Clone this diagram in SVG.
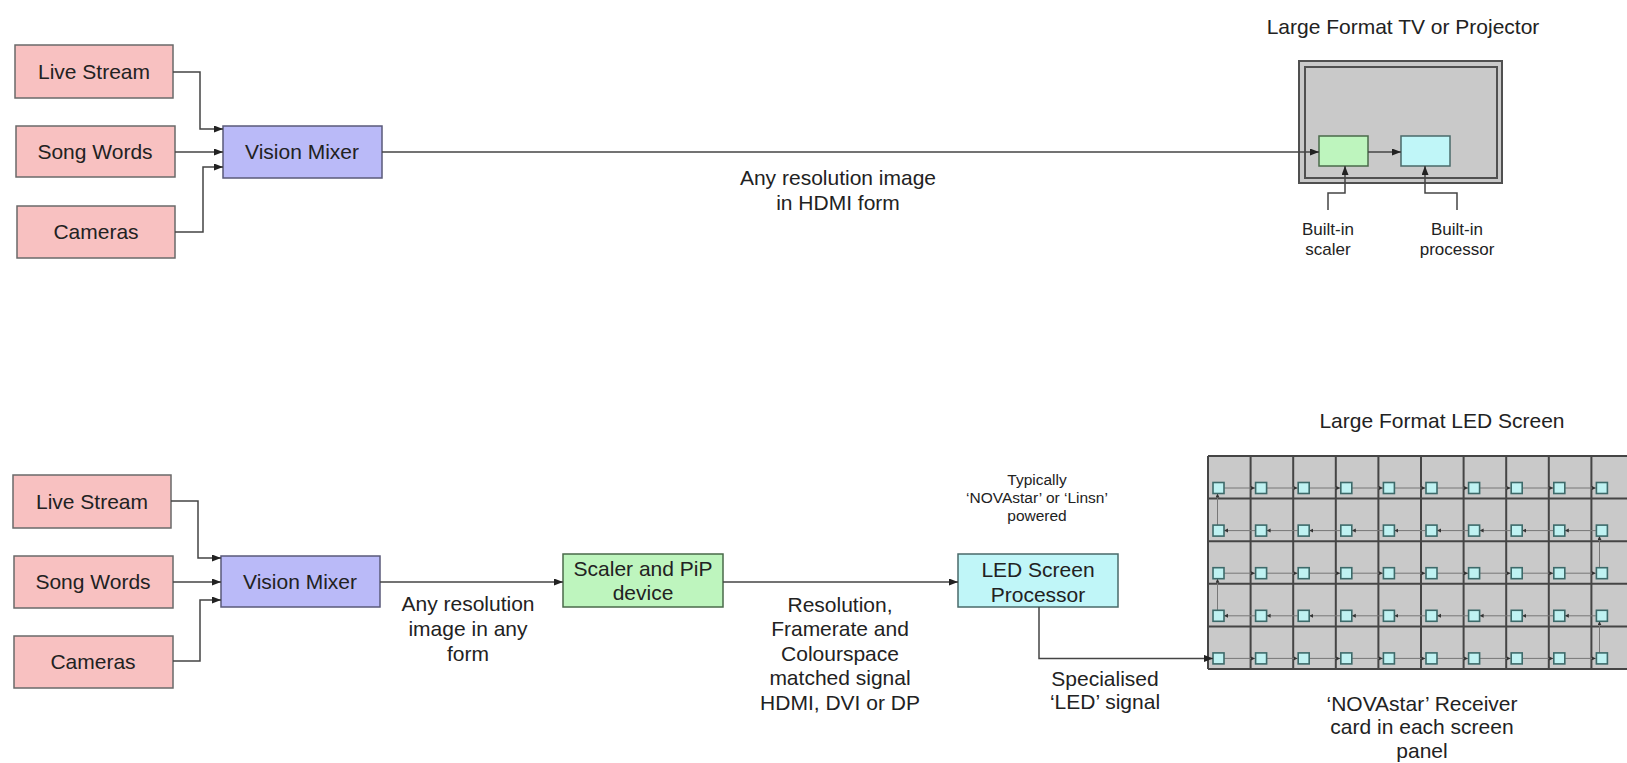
<svg xmlns="http://www.w3.org/2000/svg" width="1627" height="763" viewBox="0 0 1627 763">
<style>
text{font-family:"Liberation Sans",Arial,sans-serif;fill:#222;text-anchor:middle}
.t{font-size:21px}
.s{font-size:17px}
.xs{font-size:15.5px}
.pink{fill:#f8c1c1;stroke:#6a6a6a;stroke-width:1.5}
.lav{fill:#babaf8;stroke:#5a5a7a;stroke-width:1.5}
.grn{fill:#bef5be;stroke:#4a6a4a;stroke-width:1.5}
.cyn{fill:#c0f6f8;stroke:#4a6a6a;stroke-width:1.5}
.gray{fill:#c9c9c9;stroke:#505050;stroke-width:2}
.ln{fill:none;stroke:#444;stroke-width:1.5}
.lnA{fill:none;stroke:#444;stroke-width:1.5;marker-end:url(#arr)}
.sl{fill:none;stroke:#777;stroke-width:1;marker-end:url(#sarr)}
.card{fill:#bff2f2;stroke:#3d6a6a;stroke-width:1.6}
.grid{fill:none;stroke:#454545;stroke-width:2}
</style>
<defs>
<marker id="arr" markerUnits="userSpaceOnUse" markerWidth="10" markerHeight="8" refX="9" refY="3.5" orient="auto"><path d="M0,0 L9,3.5 L0,7 z" fill="#222"/></marker>
<marker id="sarr" markerUnits="userSpaceOnUse" markerWidth="5" markerHeight="5" refX="4" refY="2" orient="auto"><path d="M0,0 L4,2 L0,4 z" fill="#333"/></marker>
</defs>

<!-- Top section -->
<g id="top-live"><rect class="pink" x="15" y="45" width="158" height="53"/><text class="t" x="94" y="79">Live Stream</text></g>
<g id="top-song"><rect class="pink" x="16" y="126" width="159" height="51"/><text class="t" x="95" y="159">Song Words</text></g>
<g id="top-cam"><rect class="pink" x="17" y="206" width="158" height="52"/><text class="t" x="96" y="239">Cameras</text></g>
<g id="top-mixer"><rect class="lav" x="223" y="126" width="159" height="52"/><text class="t" x="302" y="159">Vision Mixer</text></g>
<g id="tv">
<rect class="gray" x="1299" y="61" width="203" height="122"/>
<rect class="gray" x="1305" y="67" width="192" height="111"/>
<text class="t" x="1403" y="34">Large Format TV or Projector</text>
</g>
<g id="tv-scaler"><rect class="grn" x="1319" y="136" width="49" height="30"/></g>
<g id="tv-processor"><rect class="cyn" x="1401" y="136" width="49" height="30"/></g>
<g id="top-labels">
<text class="t" x="838" y="185">Any resolution image</text>
<text class="t" x="838" y="210">in HDMI form</text>
<text class="s" x="1328" y="235">Built-in</text>
<text class="s" x="1328" y="255">scaler</text>
<text class="s" x="1457" y="235">Built-in</text>
<text class="s" x="1457" y="255">processor</text>
</g>

<!-- Bottom section -->
<g id="bot-live"><rect class="pink" x="13" y="475" width="158" height="53"/><text class="t" x="92" y="509">Live Stream</text></g>
<g id="bot-song"><rect class="pink" x="14" y="556" width="159" height="52"/><text class="t" x="93" y="589">Song Words</text></g>
<g id="bot-cam"><rect class="pink" x="14" y="636" width="159" height="52"/><text class="t" x="93" y="669">Cameras</text></g>
<g id="bot-mixer"><rect class="lav" x="221" y="556" width="159" height="51"/><text class="t" x="300" y="589">Vision Mixer</text></g>
<g id="bot-scaler"><rect class="grn" x="563" y="554" width="160" height="53"/><text class="t" x="643" y="576">Scaler and PiP</text><text class="t" x="643" y="600">device</text></g>
<g id="bot-ledproc"><rect class="cyn" x="958" y="554" width="160" height="53"/><text class="t" x="1038" y="577">LED Screen</text><text class="t" x="1038" y="602">Processor</text></g>
<g id="bot-labels">
<text class="t" x="468" y="611">Any resolution</text>
<text class="t" x="468" y="636">image in any</text>
<text class="t" x="468" y="661">form</text>
<text class="t" x="840" y="612">Resolution,</text>
<text class="t" x="840" y="636">Framerate and</text>
<text class="t" x="840" y="661">Colourspace</text>
<text class="t" x="840" y="685">matched signal</text>
<text class="t" x="840" y="710">HDMI, DVI or DP</text>
<text class="xs" x="1037" y="485">Typically</text>
<text class="xs" x="1037" y="503">‘NOVAstar’ or ‘Linsn’</text>
<text class="xs" x="1037" y="521">powered</text>
<text class="t" x="1105" y="686">Specialised</text>
<text class="t" x="1105" y="709">‘LED’ signal</text>
<text class="t" x="1442" y="428">Large Format LED Screen</text>
<text class="t" x="1422" y="711">‘NOVAstar’ Receiver</text>
<text class="t" x="1422" y="734">card in each screen</text>
<text class="t" x="1422" y="758">panel</text>
</g>

<!-- LED screen -->
<g id="led-screen">
<rect x="1208" y="456" width="430" height="213" fill="#c9c9c9"/>
<path class="grid" d="M1208,456 H1640 M1208,498.6 H1640 M1208,541.2 H1640 M1208,583.8 H1640 M1208,626.4 H1640 M1208,669 H1640 M1208,456 V669 M1250.6,456 V669 M1293.2,456 V669 M1335.8,456 V669 M1378.4,456 V669 M1421,456 V669 M1463.6,456 V669 M1506.2,456 V669 M1548.8,456 V669 M1591.4,456 V669"/>
<g id="led-wiring">
<path class="sl" d="M1224,488 H1255"/><path class="sl" d="M1266.6,488 H1297.6"/><path class="sl" d="M1309.2,488 H1340.2"/><path class="sl" d="M1351.8,488 H1382.8"/><path class="sl" d="M1394.4,488 H1425.4"/><path class="sl" d="M1437,488 H1468"/><path class="sl" d="M1479.6,488 H1510.6"/><path class="sl" d="M1522.2,488 H1553.2"/><path class="sl" d="M1564.8,488 H1595.8"/>
<path class="sl" d="M1595.8,530.6 H1564.8"/><path class="sl" d="M1553.2,530.6 H1522.2"/><path class="sl" d="M1510.6,530.6 H1479.6"/><path class="sl" d="M1468,530.6 H1437"/><path class="sl" d="M1425.4,530.6 H1394.4"/><path class="sl" d="M1382.8,530.6 H1351.8"/><path class="sl" d="M1340.2,530.6 H1309.2"/><path class="sl" d="M1297.6,530.6 H1266.6"/><path class="sl" d="M1255,530.6 H1224"/>
<path class="sl" d="M1224,573.2 H1255"/><path class="sl" d="M1266.6,573.2 H1297.6"/><path class="sl" d="M1309.2,573.2 H1340.2"/><path class="sl" d="M1351.8,573.2 H1382.8"/><path class="sl" d="M1394.4,573.2 H1425.4"/><path class="sl" d="M1437,573.2 H1468"/><path class="sl" d="M1479.6,573.2 H1510.6"/><path class="sl" d="M1522.2,573.2 H1553.2"/><path class="sl" d="M1564.8,573.2 H1595.8"/>
<path class="sl" d="M1595.8,615.8 H1564.8"/><path class="sl" d="M1553.2,615.8 H1522.2"/><path class="sl" d="M1510.6,615.8 H1479.6"/><path class="sl" d="M1468,615.8 H1437"/><path class="sl" d="M1425.4,615.8 H1394.4"/><path class="sl" d="M1382.8,615.8 H1351.8"/><path class="sl" d="M1340.2,615.8 H1309.2"/><path class="sl" d="M1297.6,615.8 H1266.6"/><path class="sl" d="M1255,615.8 H1224"/>
<path class="sl" d="M1224,658.4 H1255"/><path class="sl" d="M1266.6,658.4 H1297.6"/><path class="sl" d="M1309.2,658.4 H1340.2"/><path class="sl" d="M1351.8,658.4 H1382.8"/><path class="sl" d="M1394.4,658.4 H1425.4"/><path class="sl" d="M1437,658.4 H1468"/><path class="sl" d="M1479.6,658.4 H1510.6"/><path class="sl" d="M1522.2,658.4 H1553.2"/><path class="sl" d="M1564.8,658.4 H1595.8"/>
<path class="sl" d="M1599.5,652.9 V621.3"/>
<path class="sl" d="M1217.5,610.3 V578.7"/>
<path class="sl" d="M1599.5,567.7 V536.1"/>
<path class="sl" d="M1217.5,525.1 V493.5"/>
</g>
<g id="led-cards">
<rect class="card" x="1213" y="482.5" width="11" height="11"/><rect class="card" x="1255.6" y="482.5" width="11" height="11"/><rect class="card" x="1298.2" y="482.5" width="11" height="11"/><rect class="card" x="1340.8" y="482.5" width="11" height="11"/><rect class="card" x="1383.4" y="482.5" width="11" height="11"/><rect class="card" x="1426" y="482.5" width="11" height="11"/><rect class="card" x="1468.6" y="482.5" width="11" height="11"/><rect class="card" x="1511.2" y="482.5" width="11" height="11"/><rect class="card" x="1553.8" y="482.5" width="11" height="11"/><rect class="card" x="1596.4" y="482.5" width="11" height="11"/>
<rect class="card" x="1213" y="525.1" width="11" height="11"/><rect class="card" x="1255.6" y="525.1" width="11" height="11"/><rect class="card" x="1298.2" y="525.1" width="11" height="11"/><rect class="card" x="1340.8" y="525.1" width="11" height="11"/><rect class="card" x="1383.4" y="525.1" width="11" height="11"/><rect class="card" x="1426" y="525.1" width="11" height="11"/><rect class="card" x="1468.6" y="525.1" width="11" height="11"/><rect class="card" x="1511.2" y="525.1" width="11" height="11"/><rect class="card" x="1553.8" y="525.1" width="11" height="11"/><rect class="card" x="1596.4" y="525.1" width="11" height="11"/>
<rect class="card" x="1213" y="567.7" width="11" height="11"/><rect class="card" x="1255.6" y="567.7" width="11" height="11"/><rect class="card" x="1298.2" y="567.7" width="11" height="11"/><rect class="card" x="1340.8" y="567.7" width="11" height="11"/><rect class="card" x="1383.4" y="567.7" width="11" height="11"/><rect class="card" x="1426" y="567.7" width="11" height="11"/><rect class="card" x="1468.6" y="567.7" width="11" height="11"/><rect class="card" x="1511.2" y="567.7" width="11" height="11"/><rect class="card" x="1553.8" y="567.7" width="11" height="11"/><rect class="card" x="1596.4" y="567.7" width="11" height="11"/>
<rect class="card" x="1213" y="610.3" width="11" height="11"/><rect class="card" x="1255.6" y="610.3" width="11" height="11"/><rect class="card" x="1298.2" y="610.3" width="11" height="11"/><rect class="card" x="1340.8" y="610.3" width="11" height="11"/><rect class="card" x="1383.4" y="610.3" width="11" height="11"/><rect class="card" x="1426" y="610.3" width="11" height="11"/><rect class="card" x="1468.6" y="610.3" width="11" height="11"/><rect class="card" x="1511.2" y="610.3" width="11" height="11"/><rect class="card" x="1553.8" y="610.3" width="11" height="11"/><rect class="card" x="1596.4" y="610.3" width="11" height="11"/>
<rect class="card" x="1213" y="652.9" width="11" height="11"/><rect class="card" x="1255.6" y="652.9" width="11" height="11"/><rect class="card" x="1298.2" y="652.9" width="11" height="11"/><rect class="card" x="1340.8" y="652.9" width="11" height="11"/><rect class="card" x="1383.4" y="652.9" width="11" height="11"/><rect class="card" x="1426" y="652.9" width="11" height="11"/><rect class="card" x="1468.6" y="652.9" width="11" height="11"/><rect class="card" x="1511.2" y="652.9" width="11" height="11"/><rect class="card" x="1553.8" y="652.9" width="11" height="11"/><rect class="card" x="1596.4" y="652.9" width="11" height="11"/>
</g>
</g>

<!-- Connectors -->
<g id="connectors">
<path class="lnA" d="M173,72 H200 V129 H223"/>
<path class="lnA" d="M175,152 H223"/>
<path class="lnA" d="M175,232 H203 V167 H223"/>
<path class="lnA" d="M382,152 H1319"/>
<path class="lnA" d="M1368,152 H1401"/>
<path class="lnA" d="M1328,210 V193 H1345 V166"/>
<path class="lnA" d="M1457,210 V193 H1425 V166"/>
<path class="lnA" d="M171,501 H198 V558 H221"/>
<path class="lnA" d="M173,582 H221"/>
<path class="lnA" d="M173,661 H200 V600 H221"/>
<path class="lnA" d="M380,582 H563"/>
<path class="lnA" d="M723,582 H958"/>
<path class="lnA" d="M1039,607 V658.4 H1213"/>
</g>
</svg>
